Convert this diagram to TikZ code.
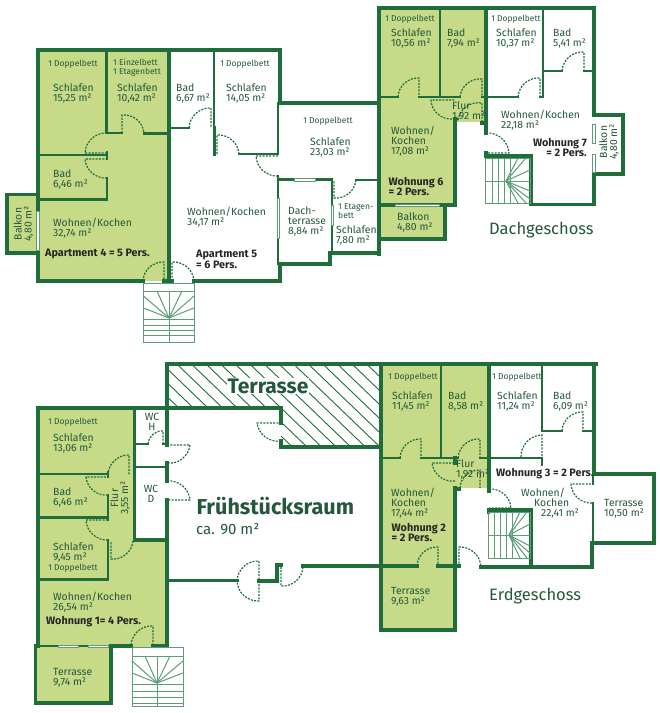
\documentclass[tikz,border=0pt]{standalone}
\usepackage{fontspec}
\setmainfont{Fira Sans}
\usepackage{xcolor}
\definecolor{walldark}{HTML}{1F6D3A}
\definecolor{aptfill}{HTML}{C6DA88}
\definecolor{textdark}{HTML}{24583A}
\definecolor{steplight}{HTML}{5F9C78}
\begin{document}
\begin{tikzpicture}[
  x=1pt, y=-1pt,
  wall/.style={draw=walldark, line width=3.8pt, line cap=rect, line join=miter},
  iwall/.style={draw=walldark, line width=2.2pt, line cap=rect, line join=miter},
  door/.style={draw=walldark, line width=1.2pt, dash pattern=on 2pt off 1.3pt},
  swing/.style={bend left=45},
  win/.style={draw=steplight, fill=white, line width=0.5pt},
  stair/.style={draw=steplight, line width=1pt},
  hatchline/.style={draw=walldark, line width=0.9pt},
  room/.style={text=textdark, font=\fontsize{10.4}{10}\selectfont, inner sep=0pt, anchor=north west, align=left},
  bed/.style={text=textdark, font=\fontsize{8.5}{9}\selectfont, inner sep=0pt, align=left},
  apt/.style={text=black!85, font=\fontsize{10.8}{10.5}\selectfont\bfseries, inner sep=0pt, anchor=north west, align=left},
  turned/.style={text=textdark, font=\fontsize{10.4}{10}\selectfont, inner sep=0pt, rotate=90, align=center},
  floorname/.style={text=textdark, font=\fontsize{16.5}{17}\selectfont, inner sep=0pt, anchor=west}
]
  \useasboundingbox (0,0) rectangle (660,713);

  % green flats
  \fill[aptfill] (38,50) rectangle (169,281);
  \fill[aptfill] (7,194) rectangle (38,253);
  \fill[aptfill] (380,8) rectangle (455,205);
  \fill[aptfill] (455,8) rectangle (486,122);
  \fill[aptfill] (380,205) rectangle (445,239);
  \fill[aptfill] (38,408) rectangle (134,647);
  \fill[aptfill] (134,540) rectangle (167,647);
  \fill[aptfill] (35.5,646) rectangle (111,703);
  \fill[aptfill] (381,364) rectangle (455,630);
  \fill[aptfill] (455,364) rectangle (488,488);

  % hatched terrace
  \begin{scope}
    \clip (167,364) -- (381,364) -- (381,447) -- (281,447) -- (281,407) -- (167,407) -- cycle;
    \foreach \hx in {60,74.6,...,385}
      \draw[hatchline] (\hx,364) -- ++(100,96);
  \end{scope}

  % Dachgeschoss walls
  \draw[wall] (143,281) -- (38,281) -- (38,50) -- (280,50) -- (280,103) -- (379,103);
  \draw[wall] (38,194.5) -- (7,194.5) -- (7,253) -- (38,253);
  \draw[wall] (169,50) -- (169,281);
  \draw[wall] (164,281) -- (172,281);
  \draw[wall] (194,281) -- (280,281) -- (280,264) -- (330,264) -- (330,253) -- (379,253);
  \draw[wall] (379,254) -- (379,8) -- (594,8) -- (594,115) -- (623,115) -- (623,174) -- (594,174) -- (594,204.5) -- (531,204.5) -- (531,156) -- (486,156) -- (486,153);
  \draw[wall] (486,8) -- (486,133);
  \draw[wall] (455,122) -- (455,205);
  \draw[wall] (380,205) -- (455,205);
  \draw[wall] (445,205) -- (445,239) -- (380,239);
  \draw[wall] (455,119) -- (455,123);
  \draw[iwall] (106.5,50) -- (106.5,133) -- (122,133);
  \draw[iwall] (144,133.5) -- (167,133.5);
  \draw[iwall] (39,155) -- (107,155);
  \draw[iwall] (107,152) -- (107,159);
  \draw[iwall] (107,178) -- (107,199.5) -- (39,199.5);
  \draw[iwall] (171,128) -- (189,128);
  \draw[iwall] (214,50) -- (214,128);
  \draw[wall] (214.5,128) -- (214.5,154);
  \draw[iwall] (239,154) -- (278,154) -- (278,103);
  \draw[iwall] (278,176) -- (278,264);
  \draw[iwall] (278,179.5) -- (332,179.5) -- (332,252);
  \draw[iwall] (356,180) -- (378,180);
  \draw[iwall] (440,8) -- (440,97);
  \draw[iwall] (381,97) -- (398,97);
  \draw[iwall] (419,97) -- (460,97);
  \draw[iwall] (482,97) -- (485,97);
  \draw[iwall] (488,97) -- (518,97);
  \draw[iwall] (543,8) -- (543,97);
  \draw[iwall] (540,97) -- (543,97);
  \draw[iwall] (545,71) -- (562,71);
  \draw[iwall] (584,71) -- (592,71);
  \draw[wall] (482,123) -- (486,123);

  % Erdgeschoss walls
  \draw[wall] (131,646) -- (111,646) -- (111,703) -- (35.5,703) -- (35.5,646) -- (38,646) -- (38,408) -- (167,408);
  \draw[iwall] (38,646) -- (111,646);
  \draw[wall] (153,646) -- (167,646) -- (167,500);
  \draw[wall] (167,463) -- (167,481);
  \draw[wall] (167,445) -- (167,364) -- (596,364);
  \draw[wall] (167,408) -- (281,408) -- (281,423);
  \draw[wall] (281,441) -- (281,447) -- (381,447);
  \draw[wall] (381,364) -- (381,630) -- (455,630) -- (455,488);
  \draw[wall] (167,580.5) -- (237,580.5);
  \draw[wall] (259,581) -- (277,581) -- (277,565) -- (281,565);
  \draw[wall] (303,566) -- (417,566);
  \draw[wall] (438,566) -- (459,566);
  \draw[wall] (481,567) -- (592,567) -- (592,543) -- (654,543) -- (654,474) -- (594,474);
  \draw[wall] (594,364) -- (594,474);
  \draw[wall] (489,364) -- (489,491);
  \draw[wall] (455,489) -- (459,489);
  \draw[wall] (488.5,512) -- (488.5,510) -- (531,510) -- (531,566);
  \draw[wall] (134.5,408) -- (134.5,540) -- (167,540);
  \draw[iwall] (135,444) -- (148,444);
  \draw[iwall] (163,444) -- (167,444);
  \draw[iwall] (135,467) -- (167,467);
  \draw[iwall] (38,474) -- (108,474);
  \draw[iwall] (108,472) -- (108,477);
  \draw[iwall] (108,495) -- (108,517.5) -- (38,517.5);
  \draw[iwall] (108,517.5) -- (108,520);
  \draw[iwall] (108,540) -- (108,579.5) -- (38,579.5);
  \draw[iwall] (441,364) -- (441,458);
  \draw[iwall] (381,458) -- (400,458);
  \draw[iwall] (421,458) -- (458,458);
  \draw[iwall] (480,458) -- (488,458);
  \draw[wall] (455,458) -- (455,463);
  \draw[iwall] (490,458) -- (542,458) -- (542,465);
  \draw[iwall] (542,364) -- (542,431) -- (562,431);
  \draw[iwall] (583,431) -- (592,431);
  \draw[iwall] (593,474) -- (593,484);
  \draw[iwall] (593,503) -- (593,543);

  % windows
  \draw[win] (36.5,211) rectangle (39,250);
  \draw[win] (276.8,198) rectangle (279.4,238);
  \draw[win] (294,178.5) rectangle (315,181);
  \draw[win] (330.8,205) rectangle (333.4,225);
  \draw[win] (395,203.8) rectangle (439,206.4);
  \draw[win] (592,124) rectangle (594.8,143);
  \draw[win] (592,154) rectangle (594.8,172);
  \draw[win] (58,644.8) rectangle (78,647.2);
  \draw[win] (88,644.8) rectangle (108,647.2);

  % doors
  \draw[door] (122,133) -- (122,115) to[swing] (144,133);
  \draw[door] (107,153) -- (85,153) to[swing] (107,133);
  \draw[door] (107,178) to[swing] (85,159) -- (107,159);
  \draw[door] (143,281) to[swing] (164,262) -- (164,281);
  \draw[door] (172,281) -- (172,262) to[swing] (194,281);
  \draw[door] (189,128) to[swing] (211,108) -- (211,128);
  \draw[door] (217,154) -- (217,135) to[swing] (239,154);
  \draw[door] (278,176) to[swing] (256,156) -- (278,156);
  \draw[door] (356,180) to[swing] (334,198) -- (334,180);
  \draw[door] (398,97) to[swing] (419,78) -- (419,97);
  \draw[door] (460,97) to[swing] (482,79) -- (482,97);
  \draw[door] (452,119) to[swing] (431,100) -- (455,100);
  \draw[door] (458,120) to[swing] (482,103) -- (482,122);
  \draw[door] (486,133) to[swing] (509,153) -- (486,153);
  \draw[door] (518,97) to[swing] (540,78) -- (540,97);
  \draw[door] (562,71) to[swing] (584,52) -- (584,71);
  \draw[door] (281,441) to[swing] (257,423) -- (281,423);
  \draw[door] (148,444) to[swing] (163,431) -- (163,444);
  \draw[door] (167,445) -- (190,445) to[swing] (167,463);
  \draw[door] (167,481) to[swing] (190,500) -- (167,500);
  \draw[door] (108,475) to[swing] (129,455) -- (129,475);
  \draw[door] (108,495) to[swing] (86,477) -- (108,477);
  \draw[door] (108,540) to[swing] (86,520) -- (108,520);
  \draw[door] (133,541) to[swing] (111,559) -- (111,541);
  \draw[door] (131,645) to[swing] (153,626) -- (153,645);
  \draw[door] (237,581) to[swing] (259,561) -- (259,601) to[swing] (237,581);
  \draw[door] (303,567) to[swing] (281,586) -- (281,567);
  \draw[door] (400,458) to[swing] (421,439) -- (421,458);
  \draw[door] (458,458) to[swing] (480,439) -- (480,458);
  \draw[door] (455,481) to[swing] (432,463) -- (455,463);
  \draw[door] (460,488) to[swing] (480,470) -- (480,488);
  \draw[door] (489,489) to[swing] (511,508) -- (489,508);
  \draw[door] (562,431) to[swing] (583,412) -- (583,431);
  \draw[door] (521,457) to[swing] (542,435) -- (542,457);
  \draw[door] (592,503) to[swing] (571,484) -- (593,484);
  \draw[door] (417,566) to[swing] (438,547) -- (438,566);
  \draw[door] (459,567) -- (459,547) to[swing] (481,567);

  % stairs
  \draw[stair] (143.5,283) rectangle (194,342);
  \draw[stair] (143.5,291) -- (194,291);
  \draw[stair] (169,291) -- (169,342);
  \foreach \sy in {319,325,330,335}
    \draw[stair] (143.5,\sy) -- (194,\sy);
  \foreach \ex/\ey in {143.5/296,143.5/308,157/291,182/291,194/296,194/308}
    \draw[stair] (169,318) -- (\ex,\ey);
  \draw[stair] (132,647) rectangle (183,706);
  \draw[stair] (132,656) -- (183,656);
  \draw[stair] (157,656) -- (157,706);
  \foreach \sy in {684,691,697,703}
    \draw[stair] (132,\sy) -- (183,\sy);
  \foreach \ex/\ey in {132/661,132/673,145/656,170/656,183/661,183/673}
    \draw[stair] (157,683) -- (\ex,\ey);
  \draw[stair] (485,158) rectangle (530,203);
  \foreach \sx in {492,498,504,510}
    \draw[stair] (\sx,158) -- (\sx,203);
  \draw[stair] (485,181) -- (530,181);
  \foreach \ex/\ey in {518/158,526/158,530/170,530/191,530/199,526/203,518/203}
    \draw[stair] (506,181) -- (\ex,\ey);
  \draw[stair] (488,512) rectangle (530,558);
  \foreach \sx in {494,500,506,512}
    \draw[stair] (\sx,512) -- (\sx,558);
  \draw[stair] (488,535) -- (530,535);
  \foreach \ex/\ey in {520/512,527/512,530/524,530/546,530/553,527/558,520/558}
    \draw[stair] (509,535) -- (\ex,\ey);

  % Dachgeschoss labels
  \node[bed] at (73,64) {1 Doppelbett};
  \node[room] at (53,83) {Schlafen\\15,25 m²};
  \node[bed, anchor=west] at (113,67.5) {1 Einzelbett\\1 Etagenbett};
  \node[room] at (117,83) {Schlafen\\10,42 m²};
  \node[room] at (53,169) {Bad\\6,46 m²};
  \node[room] at (53,218) {Wohnen/Kochen\\32,74 m²};
  \node[apt] at (45,249) {Apartment 4 = 5 Pers.};
  \node[turned] at (23.5,224) {Balkon\\4,80 m²};
  \node[room] at (176,83) {Bad\\6,67 m²};
  \node[bed] at (245,64) {1 Doppelbett};
  \node[room] at (226,83) {Schlafen\\14,05 m²};
  \node[room] at (187,207) {Wohnen/Kochen\\34,17 m²};
  \node[apt] at (196,250) {Apartment 5\\= 6 Pers.};
  \node[room] at (288,207) {Dach-\\terrasse\\8,84 m²};
  \node[bed] at (328,121) {1 Doppelbett};
  \node[room] at (310,137) {Schlafen\\23,03 m²};
  \node[bed, anchor=west] at (338,211.5) {1 Etagen-\\bett};
  \node[room] at (336,225) {Schlafen\\7,80 m²};
  \node[bed] at (410,19) {1 Doppelbett};
  \node[room] at (391,28) {Schlafen\\10,56 m²};
  \node[room] at (447,28) {Bad\\7,94 m²};
  \node[bed] at (516,19) {1 Doppelbett};
  \node[room] at (496,28) {Schlafen\\10,37 m²};
  \node[room] at (553,28) {Bad\\5,41 m²};
  \node[room] at (452,101) {Flur\\1,92 m²};
  \node[room] at (501,110) {Wohnen/Kochen\\22,18 m²};
  \node[apt, anchor=north east, align=right] at (587,138) {Wohnung 7\\= 2 Pers.};
  \node[turned] at (609,142) {Balkon\\4,80 m²};
  \node[room] at (391,126) {Wohnen/\\Kochen\\17,08 m²};
  \node[apt] at (388.5,177) {Wohnung 6\\= 2 Pers.};
  \node[room] at (397,212) {Balkon\\4,80 m²};
  \node[floorname] at (489,230) {Dachgeschoss};

  % Erdgeschoss labels
  \node[fill=white, text=textdark, inner sep=1pt, font=\fontsize{21}{21}\selectfont\bfseries] at (268,386) {Terrasse};
  \node[bed] at (73,422) {1 Doppelbett};
  \node[room] at (53,433) {Schlafen\\13,06 m²};
  \node[room] at (53,487) {Bad\\6,46 m²};
  \node[turned] at (120,498) {Flur\\3,55 m²};
  \node[room] at (53,542) {Schlafen\\9,45 m²};
  \node[bed] at (73,568) {1 Doppelbett};
  \node[room] at (53,592) {Wohnen/Kochen\\26,54 m²};
  \node[apt] at (46,616) {Wohnung 1= 4 Pers.};
  \node[room] at (53,668) {Terrasse\\9,74 m²};
  \node[room, anchor=center, align=center] at (152,422) {WC\\H};
  \node[room, anchor=center, align=center] at (151,494) {WC\\D};
  \node[text=textdark, inner sep=0pt, anchor=west, font=\fontsize{21.6}{21}\selectfont\bfseries] at (196.5,506) {Frühstücksraum};
  \node[text=textdark, inner sep=0pt, anchor=west, font=\fontsize{15}{15}\selectfont] at (196,529) {ca. 90 m²};
  \node[bed] at (413,377) {1 Doppelbett};
  \node[room] at (392,391) {Schlafen\\11,45 m²};
  \node[room] at (448,391) {Bad\\8,58 m²};
  \node[bed] at (517,377) {1 Doppelbett};
  \node[room] at (497,391) {Schlafen\\11,24 m²};
  \node[room] at (553,391) {Bad\\6,09 m²};
  \node[room] at (456,459) {Flur\\1,92 m²};
  \node[apt] at (496,468) {Wohnung 3 = 2 Pers.};
  \node[room] at (521,488) {Wohnen/\\\hspace*{13pt}Kochen\\\hspace*{20pt}22,41 m²};
  \node[room] at (604,499) {Terrasse\\10,50 m²};
  \node[room] at (391,488) {Wohnen/\\Kochen\\17,44 m²};
  \node[apt] at (391.5,523) {Wohnung 2\\= 2 Pers.};
  \node[room] at (391,587) {Terrasse\\9,63 m²};
  \node[floorname] at (489,596) {Erdgeschoss};
\end{tikzpicture}
\end{document}
